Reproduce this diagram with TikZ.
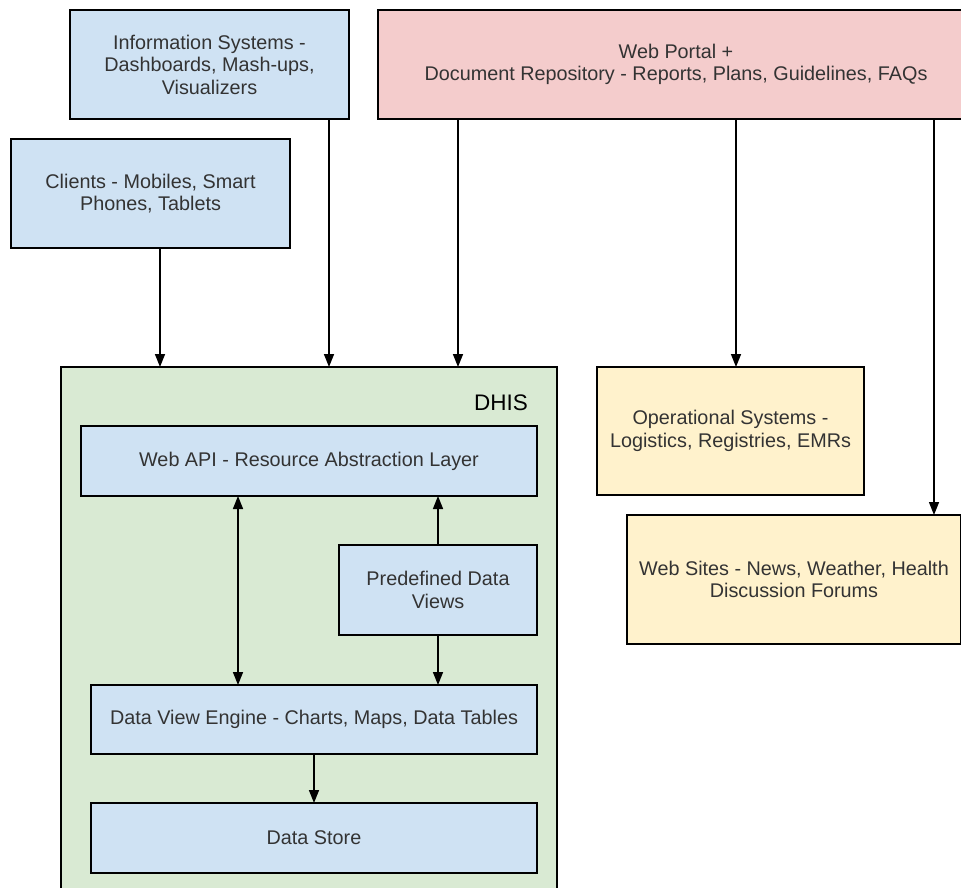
\documentclass[tikz,border=0pt]{standalone}
\usepackage{fontspec}
\setmainfont{Liberation Sans}
\usetikzlibrary{arrows.meta}
\definecolor{bblue}{HTML}{CFE2F3}
\definecolor{bpink}{HTML}{F4CCCC}
\definecolor{byel}{HTML}{FFF2CC}
\definecolor{bgreen}{HTML}{D9EAD3}
\definecolor{txt}{HTML}{333333}
\tikzset{
  box/.style={draw=black, line width=1.6pt, rectangle, inner sep=0pt, outer sep=0pt, align=center,
    text=txt, font=\fontsize{19.8}{22.5}\selectfont},
  arr/.style={line width=1.5pt, -{Triangle[length=13pt,width=10pt]}},
  darr/.style={line width=1.5pt, {Triangle[length=13pt,width=10pt]}-{Triangle[length=13pt,width=10pt]}},
}
\begin{document}
\begin{tikzpicture}[x=1pt,y=-1pt]
\useasboundingbox (0,0) rectangle (961,888);
\clip (0,0) rectangle (961,888);
% DHIS container
\node[box, fill=bgreen, minimum width=496pt, minimum height=533pt] (dhis) at (309,633.5) {};
\node[text=black, font=\fontsize{22.5}{26}\selectfont, anchor=east, inner sep=0pt] (dhislbl) at (528,403) {DHIS};
% top boxes
\node[box, fill=bblue, minimum width=279pt, minimum height=109pt] (info) at (209.5,64.5) {Information Systems -\\Dashboards, Mash-ups,\\Visualizers};
\node[box, fill=bblue, minimum width=279pt, minimum height=109pt] (clients) at (150.5,193.5) {Clients - Mobiles, Smart\\Phones, Tablets};
\node[box, fill=bpink, minimum width=596pt, minimum height=109pt] (portal) at (676,64.5) {Web Portal +\\Document Repository - Reports, Plans, Guidelines, FAQs};
% right boxes
\node[box, fill=byel, minimum width=267pt, minimum height=128pt] (ops) at (730.5,431) {Operational Systems -\\Logistics, Registries, EMRs};
\node[box, fill=byel, minimum width=334pt, minimum height=129pt] (sites) at (794,579.5) {Web Sites - News, Weather, Health\\Discussion Forums};
% inner boxes
\node[box, fill=bblue, minimum width=456pt, minimum height=70pt] (api) at (309,461) {Web API - Resource Abstraction Layer};
\node[box, fill=bblue, minimum width=198pt, minimum height=90pt] (pdv) at (438,590) {Predefined Data\\Views};
\node[box, fill=bblue, minimum width=446pt, minimum height=69pt] (engine) at (314,719.5) {Data View Engine - Charts, Maps, Data Tables};
\node[box, fill=bblue, minimum width=446pt, minimum height=70pt] (store) at (314,838) {Data Store};
% connectors
\draw[arr] ([xshift=9.5pt]clients.south) -- ([xshift=9.5pt]clients.south |- dhis.north);
\draw[arr] ([xshift=-20pt]info.south east) -- ([xshift=-20pt]info.south east |- dhis.north);
\draw[arr] ([xshift=80pt]portal.south west) -- ([xshift=80pt]portal.south west |- dhis.north);
\draw[arr] ([xshift=5.5pt]portal.south -| ops.north) -- ([xshift=5.5pt]ops.north);
\draw[arr] ([xshift=-40pt]portal.south east) -- ([xshift=-40pt]portal.south east |- sites.north);
\draw[darr] ([xshift=-71pt]api.south) -- ([xshift=-71pt]api.south |- engine.north);
\draw[arr] (pdv.north) -- (pdv.north |- api.south);
\draw[arr] (pdv.south) -- (pdv.south |- engine.north);
\draw[arr] (engine.south) -- (store.north);
\end{tikzpicture}
\end{document}
